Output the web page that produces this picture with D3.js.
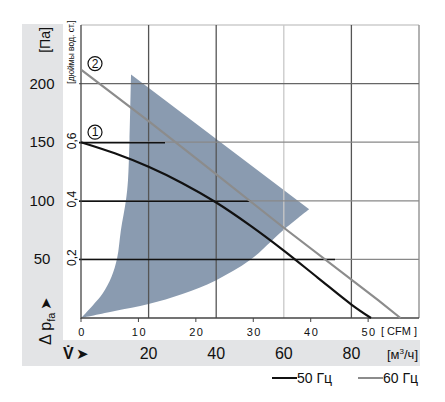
<!DOCTYPE html>
<html><head><meta charset="utf-8">
<script src="https://cdn.jsdelivr.net/npm/d3@7"></script>
<style>
html,body{margin:0;padding:0;background:#fff;}
svg{display:block;}
text{font-family:"Liberation Sans Narrow","Liberation Sans",Arial,sans-serif;fill:#111;}
</style></head>
<body>
<svg id="c" width="445" height="402"></svg>
<script>
// ---- data ----
const paTicks = [50, 100, 150, 200];
const inchTicks = [0.2, 0.4, 0.6];
const m3hTicks = [20, 40, 60, 80];
const cfmTicks = [0, 10, 20, 30, 40, 50];
// curve 1 : 50 Hz  (m3/h, Pa)
const flow50 = [0, 10, 20, 30, 40, 50, 60, 70, 80, 85.8];
const pres50 = [150, 140.5, 129, 115, 98.5, 79, 57.5, 34.5, 11.5, 0];
// curve 2 : 60 Hz
const flow60 = [0, 20, 35, 60, 88, 94.5];
const pres60 = [212, 168, 134, 77, 15, 0];
// shaded operating region (m3/h, Pa): lower edge (origin -> tip), left edge (top -> origin)
const lowFlow = [0, 10, 20, 30, 40, 50, 59.8, 67.5];
const lowPres = [0, 6, 11.9, 20.4, 32.3, 49.4, 74.9, 92.8];
const leftFlow = [14.8, 14.35, 13.9, 13.3, 11.8, 10.7, 9.0, 6.5, 3.6, 0.6, 0];
const leftPres = [207.7, 151.5, 117.4, 100.4, 74.9, 51.1, 34.9, 21.3, 11.1, 1.7, 0];
const legendLabels = ["50 Гц", "60 Гц"];

const CFM = 1.699; // m3/h per CFM
const INCH = 249.09; // Pa per inch H2O

const svg = d3.select("#c");
const L = 81, R = 419, T = 25, B = 318;
const x = d3.scaleLinear().domain([0, 100]).range([L, R]);
const y = d3.scaleLinear().domain([0, 250]).range([B, T]);

// panels
svg.append("rect").attr("x", 22).attr("y", 24).attr("width", 398).attr("height", 342).attr("fill", "#e3e4e6");
svg.append("rect").attr("x", 63).attr("y", 24).attr("width", 357).attr("height", 316).attr("fill", "#fff");

// shaded region
const seg = d3.line().x(d => x(d[0])).y(d => y(d[1])).curve(d3.curveCatmullRom.alpha(0.5));
const lowPath = seg(lowFlow.map((f, i) => [f, lowPres[i]]));
const leftPath = seg(leftFlow.map((f, i) => [f, leftPres[i]]));
svg.append("path")
  .attr("d", lowPath + "L" + leftPath.slice(1) + "Z")
  .attr("fill", "#8a9bb0");

// border top/right
svg.append("line").attr("x1", L).attr("x2", R).attr("y1", T).attr("y2", T).attr("stroke", "#ccc").attr("stroke-width", 1.5);
svg.append("line").attr("x1", R).attr("x2", R).attr("y1", T).attr("y2", B).attr("stroke", "#999").attr("stroke-width", 1.5);

// vertical grid (m3/h)
const vCol = {20: "#555", 40: "#555", 60: "#c8c8c8", 80: "#555"};
svg.append("g").selectAll("line").data(m3hTicks).join("line")
  .attr("x1", d => x(d)).attr("x2", d => x(d)).attr("y1", T).attr("y2", B)
  .attr("stroke", d => vCol[d]).attr("stroke-width", 1.3);

// horizontal Pa grid
svg.append("g").selectAll("line").data(paTicks).join("line")
  .attr("x1", L - 2).attr("x2", R).attr("y1", d => y(d)).attr("y2", d => y(d))
  .attr("stroke", d => d === 200 ? "#666" : "#888").attr("stroke-width", 1.3);

// inch lines (black, partial)
const inchEnd = {0.2: 335, 0.4: 251, 0.6: 165};
svg.append("g").selectAll("line").data(inchTicks).join("line")
  .attr("x1", L - 2).attr("x2", d => inchEnd[d]).attr("y1", d => y(d * INCH)).attr("y2", d => y(d * INCH))
  .attr("stroke", "#111").attr("stroke-width", 1.5);

// axes lines
svg.append("line").attr("x1", L).attr("x2", L).attr("y1", T).attr("y2", B + 1).attr("stroke", "#444").attr("stroke-width", 1.3);
svg.append("line").attr("x1", L).attr("x2", R).attr("y1", B).attr("y2", B).attr("stroke", "#444").attr("stroke-width", 1.3);

// CFM ticks
svg.append("g").selectAll("line").data(cfmTicks).join("line")
  .attr("x1", d => x(d * CFM)).attr("x2", d => x(d * CFM)).attr("y1", B).attr("y2", B + 4)
  .attr("stroke", "#444");
svg.append("g").selectAll("text").data(cfmTicks).join("text")
  .attr("x", d => x(d * CFM) + 1).attr("y", 336).attr("text-anchor", "middle")
  .style("font-family", "'Liberation Sans',Arial,sans-serif").style("letter-spacing", "1.5px")
  .attr("font-size", 11).text(d => d);
svg.append("text").attr("x", 417).attr("y", 335).attr("text-anchor", "end").attr("font-size", 11)
  .style("font-family", "'Liberation Sans',Arial,sans-serif").text("[ CFM ]");

// curves
svg.append("path").datum(flow60.map((f, i) => [f, pres60[i]]))
  .attr("d", d3.line().x(d => x(d[0])).y(d => y(d[1])))
  .attr("fill", "none").attr("stroke", "#8c8c8c").attr("stroke-width", 2.2);
svg.append("path").datum(flow50.map((f, i) => [f, pres50[i]]))
  .attr("d", d3.line().x(d => x(d[0])).y(d => y(d[1])).curve(d3.curveCatmullRom.alpha(0.5)))
  .attr("fill", "none").attr("stroke", "#111").attr("stroke-width", 2.2);

// circled labels
[[2, 212, 6], [1, 150, 10]].forEach(([n, p, off]) => {
  const cy = y(p) - off, cx = 95;
  svg.append("circle").attr("cx", cx).attr("cy", cy).attr("r", 7).attr("fill", "#fff").attr("stroke", "#111").attr("stroke-width", 1.2);
  svg.append("text").attr("x", cx).attr("y", cy + 4).attr("text-anchor", "middle").attr("font-size", 12).text(n);
});

// Pa labels
svg.append("g").selectAll("text").data(paTicks).join("text")
  .attr("x", 42).attr("y", d => y(d) + 5).attr("text-anchor", "middle").attr("font-size", 15).text(d => d);
svg.append("text").attr("transform", "translate(50,40) rotate(-90)").attr("text-anchor", "middle").attr("font-size", 14).text("[Па]");

// inch labels
svg.append("g").selectAll("text").data(inchTicks).join("text")
  .attr("transform", d => `translate(76,${y(d * INCH) - 2}) rotate(-90)`).attr("text-anchor", "middle")
  .attr("font-size", 12).text(d => String(d).replace(".", ","));
svg.append("text").attr("transform", "translate(74,52) rotate(-90)").attr("text-anchor", "middle")
  .attr("font-size", 8.5).text("[дюймы вод. ст.]");

// Δp label
const dp = svg.append("text").attr("transform", "translate(51,345) rotate(-90)").attr("font-size", 16);
dp.append("tspan").text("Δ p");
dp.append("tspan").attr("font-size", 11).attr("dy", 4).text("fa");
dp.append("tspan").attr("dy", -4).attr("dx", 3).attr("font-size", 15).text("➤");

// m3/h labels
svg.append("g").selectAll("text").data(m3hTicks).join("text")
  .attr("x", d => x(d)).attr("y", 359).attr("text-anchor", "middle").attr("font-size", 16).text(d => d);
const vl = svg.append("text").attr("x", 63).attr("y", 359).attr("font-size", 16).attr("font-weight", "bold");
vl.append("tspan").text("V̇");
vl.append("tspan").attr("dx", 2).attr("font-weight", "normal").attr("font-size", 15).text("➤");
const unit = svg.append("text").attr("x", 418).attr("y", 359).attr("text-anchor", "end").attr("font-size", 13);
unit.append("tspan").text("[м");
unit.append("tspan").attr("font-size", 8).attr("dy", -5).text("3");
unit.append("tspan").attr("dy", 5).text("/ч]");

// legend
const legX = [272, 358], legCol = ["#111", "#8c8c8c"];
legendLabels.forEach((t, i) => {
  svg.append("line").attr("x1", legX[i]).attr("x2", legX[i] + 25).attr("y1", 378).attr("y2", 378)
    .attr("stroke", legCol[i]).attr("stroke-width", 2);
  svg.append("text").attr("x", legX[i] + 25).attr("y", 383).attr("font-size", 14).text(t);
});
</script>
</body></html>
